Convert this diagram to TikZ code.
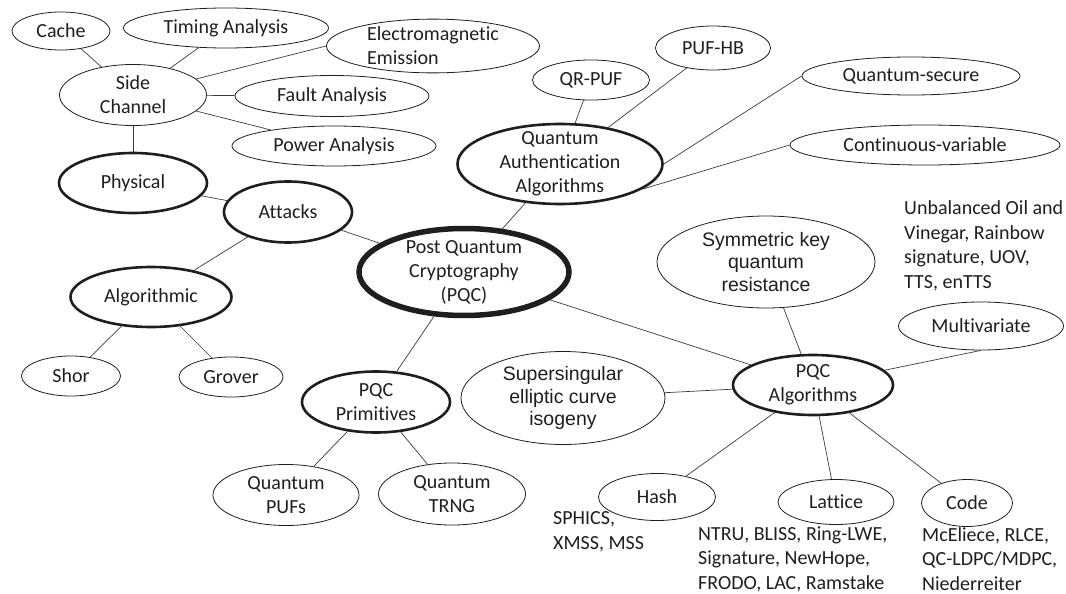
\documentclass[tikz,border=0pt]{standalone}
\usepackage{fontspec}
\setmainfont{Carlito}[Ligatures=NoCommon]
\newfontfamily\arialfont{Liberation Sans}
\usetikzlibrary{shapes.geometric}
\definecolor{Ink}{HTML}{1E1E1E}
\definecolor{Wire}{HTML}{3A3A3A}
\tikzset{oval/.style={ellipse,draw=Ink,line width=0.8pt,inner sep=0pt,align=center,
    text=Ink,font=\fontsize{20}{24}\selectfont},
  hub/.style={oval,line width=2.6pt},
  core/.style={oval,line width=5.5pt},
  arialoval/.style={oval,font=\arialfont\fontsize{19.5}{22.5}\selectfont},
  plain/.style={anchor=west,align=left,inner sep=0pt,text=Ink,
    font=\fontsize{20}{24.5}\selectfont},
  wire/.style={draw=Wire,line width=0.7pt}}

\begin{document}
\begin{tikzpicture}[x=1pt,y=1pt]
        \useasboundingbox (0,0) rectangle (1066,-594);
        % attacks side
        \node[oval,minimum width=98pt,minimum height=38pt] (cache) at (61,-31) {Cache};
        \node[oval,minimum width=205pt,minimum height=40pt] (timing) at (226,-28) {Timing Analysis};
        \node[oval,align=left,minimum width=213pt,minimum height=52pt] (emag) at (433,-46) {Electromagnetic\\Emission};
        \node[oval,minimum width=147pt,minimum height=61pt] (side) at (133,-95) {Side\\Channel};
        \node[oval,minimum width=194pt,minimum height=41pt] (fault) at (332,-96) {Fault Analysis};
        \node[oval,minimum width=204pt,minimum height=40pt] (power) at (334,-146) {Power Analysis};
        \node[hub,minimum width=148pt,minimum height=60pt] (phys) at (133,-183) {Physical};
        \node[hub,minimum width=128pt,minimum height=61pt] (att) at (288,-212) {Attacks};
        \node[hub,minimum width=161pt,minimum height=60pt] (algo) at (151,-297) {Algorithmic};
        \node[oval,minimum width=99pt,minimum height=40pt] (shor) at (71,-376) {Shor};
        \node[oval,minimum width=104pt,minimum height=40pt] (grover) at (231,-377) {Grover};
        % centre
        \node[core,inner ysep=-3pt,minimum width=210pt,minimum height=87pt] (pqc) at (464,-272) {Post Quantum\\Cryptography\\(PQC)};
        % authentication
        \node[hub,inner ysep=-5pt,minimum width=205pt,minimum height=80pt] (qaa) at (560,-164) {Quantum\\Authentication\\Algorithms};
        \node[oval,minimum width=117pt,minimum height=40pt] (qrpuf) at (591,-80) {QR-PUF};
        \node[oval,minimum width=115pt,minimum height=44pt] (pufhb) at (713,-48) {PUF-HB};
        \node[oval,minimum width=218pt,minimum height=38pt] (qsec) at (911,-76) {Quantum-secure};
        \node[oval,minimum width=270pt,minimum height=40pt] (cvar) at (925,-145) {Continuous-variable};
        % primitives
        \node[hub,minimum width=148pt,minimum height=61pt] (prim) at (376,-402) {PQC\\Primitives};
        \node[oval,minimum width=146pt,minimum height=61pt] (qpuf) at (286,-495) {Quantum\\PUFs};
        \node[oval,minimum width=147pt,minimum height=62pt] (trng) at (452,-494) {Quantum\\TRNG};
        % algorithms
        \node[hub,minimum width=160pt,minimum height=60pt] (alg) at (813,-385) {PQC\\Algorithms};
        \node[arialoval,minimum width=218pt,minimum height=92pt] (sym) at (766,-262) {Symmetric key\\quantum\\resistance};
        \node[plain] (uov) at (904,-246) {Unbalanced Oil and\\Vinegar, Rainbow\\signature, UOV,\\TTS, enTTS};
        \node[oval,minimum width=165pt,minimum height=48pt] (mv) at (981,-326) {Multivariate};
        \node[arialoval,minimum width=204pt,minimum height=93pt] (sidh) at (563,-398) {Supersingular\\elliptic curve\\isogeny};
        \node[oval,minimum width=117pt,minimum height=47pt] (hash) at (657,-497) {Hash};
        \node[oval,minimum width=116pt,minimum height=45pt] (lat) at (836,-502) {Lattice};
        \node[oval,minimum width=91pt,minimum height=47pt] (code) at (967,-503) {Code};
        \node[plain] (sphics) at (553,-532) {SPHICS,\\XMSS, MSS};
        \node[plain] (ntru) at (698,-559) {NTRU, BLISS, Ring-LWE,\\Signature, NewHope,\\FRODO, LAC, Ramstake};
        \node[plain] (mce) at (922,-559) {McEliece, RLCE,\\QC-LDPC/MDPC,\\Niederreiter};
        % links
        \draw[wire] (side)--(cache);
        \draw[wire] (side)--(timing);
        \draw[wire] (side)--(emag.west);
        \draw[wire] (side)--(fault);
        \draw[wire] (side)--(power);
        \draw[wire] (side)--(phys);
        \draw[wire] (phys)--(att);
        \draw[wire] (att)--(algo);
        \draw[wire] (att)--(pqc);
        \draw[wire] (algo)--(shor);
        \draw[wire] (algo)--(grover);
        \draw[wire] (pqc)--(qaa);
        \draw[wire] (qaa)--(qrpuf);
        \draw[wire] (qaa)--(pufhb);
        \draw[wire] (qaa.east)--(qsec.west);
        \draw[wire] (qaa.-17)--(cvar.west);
        \draw[wire] (pqc)--(prim);
        \draw[wire] (prim)--(qpuf);
        \draw[wire] (prim)--(trng);
        \draw[wire] (pqc)--(alg);
        \draw[wire] (alg)--(sym);
        \draw[wire] (alg)--(mv.south);
        \draw[wire] (alg)--(sidh);
        \draw[wire] (alg)--(hash);
        \draw[wire] (alg)--(lat);
        \draw[wire] (alg)--(code);
      \end{tikzpicture}
\end{document}
